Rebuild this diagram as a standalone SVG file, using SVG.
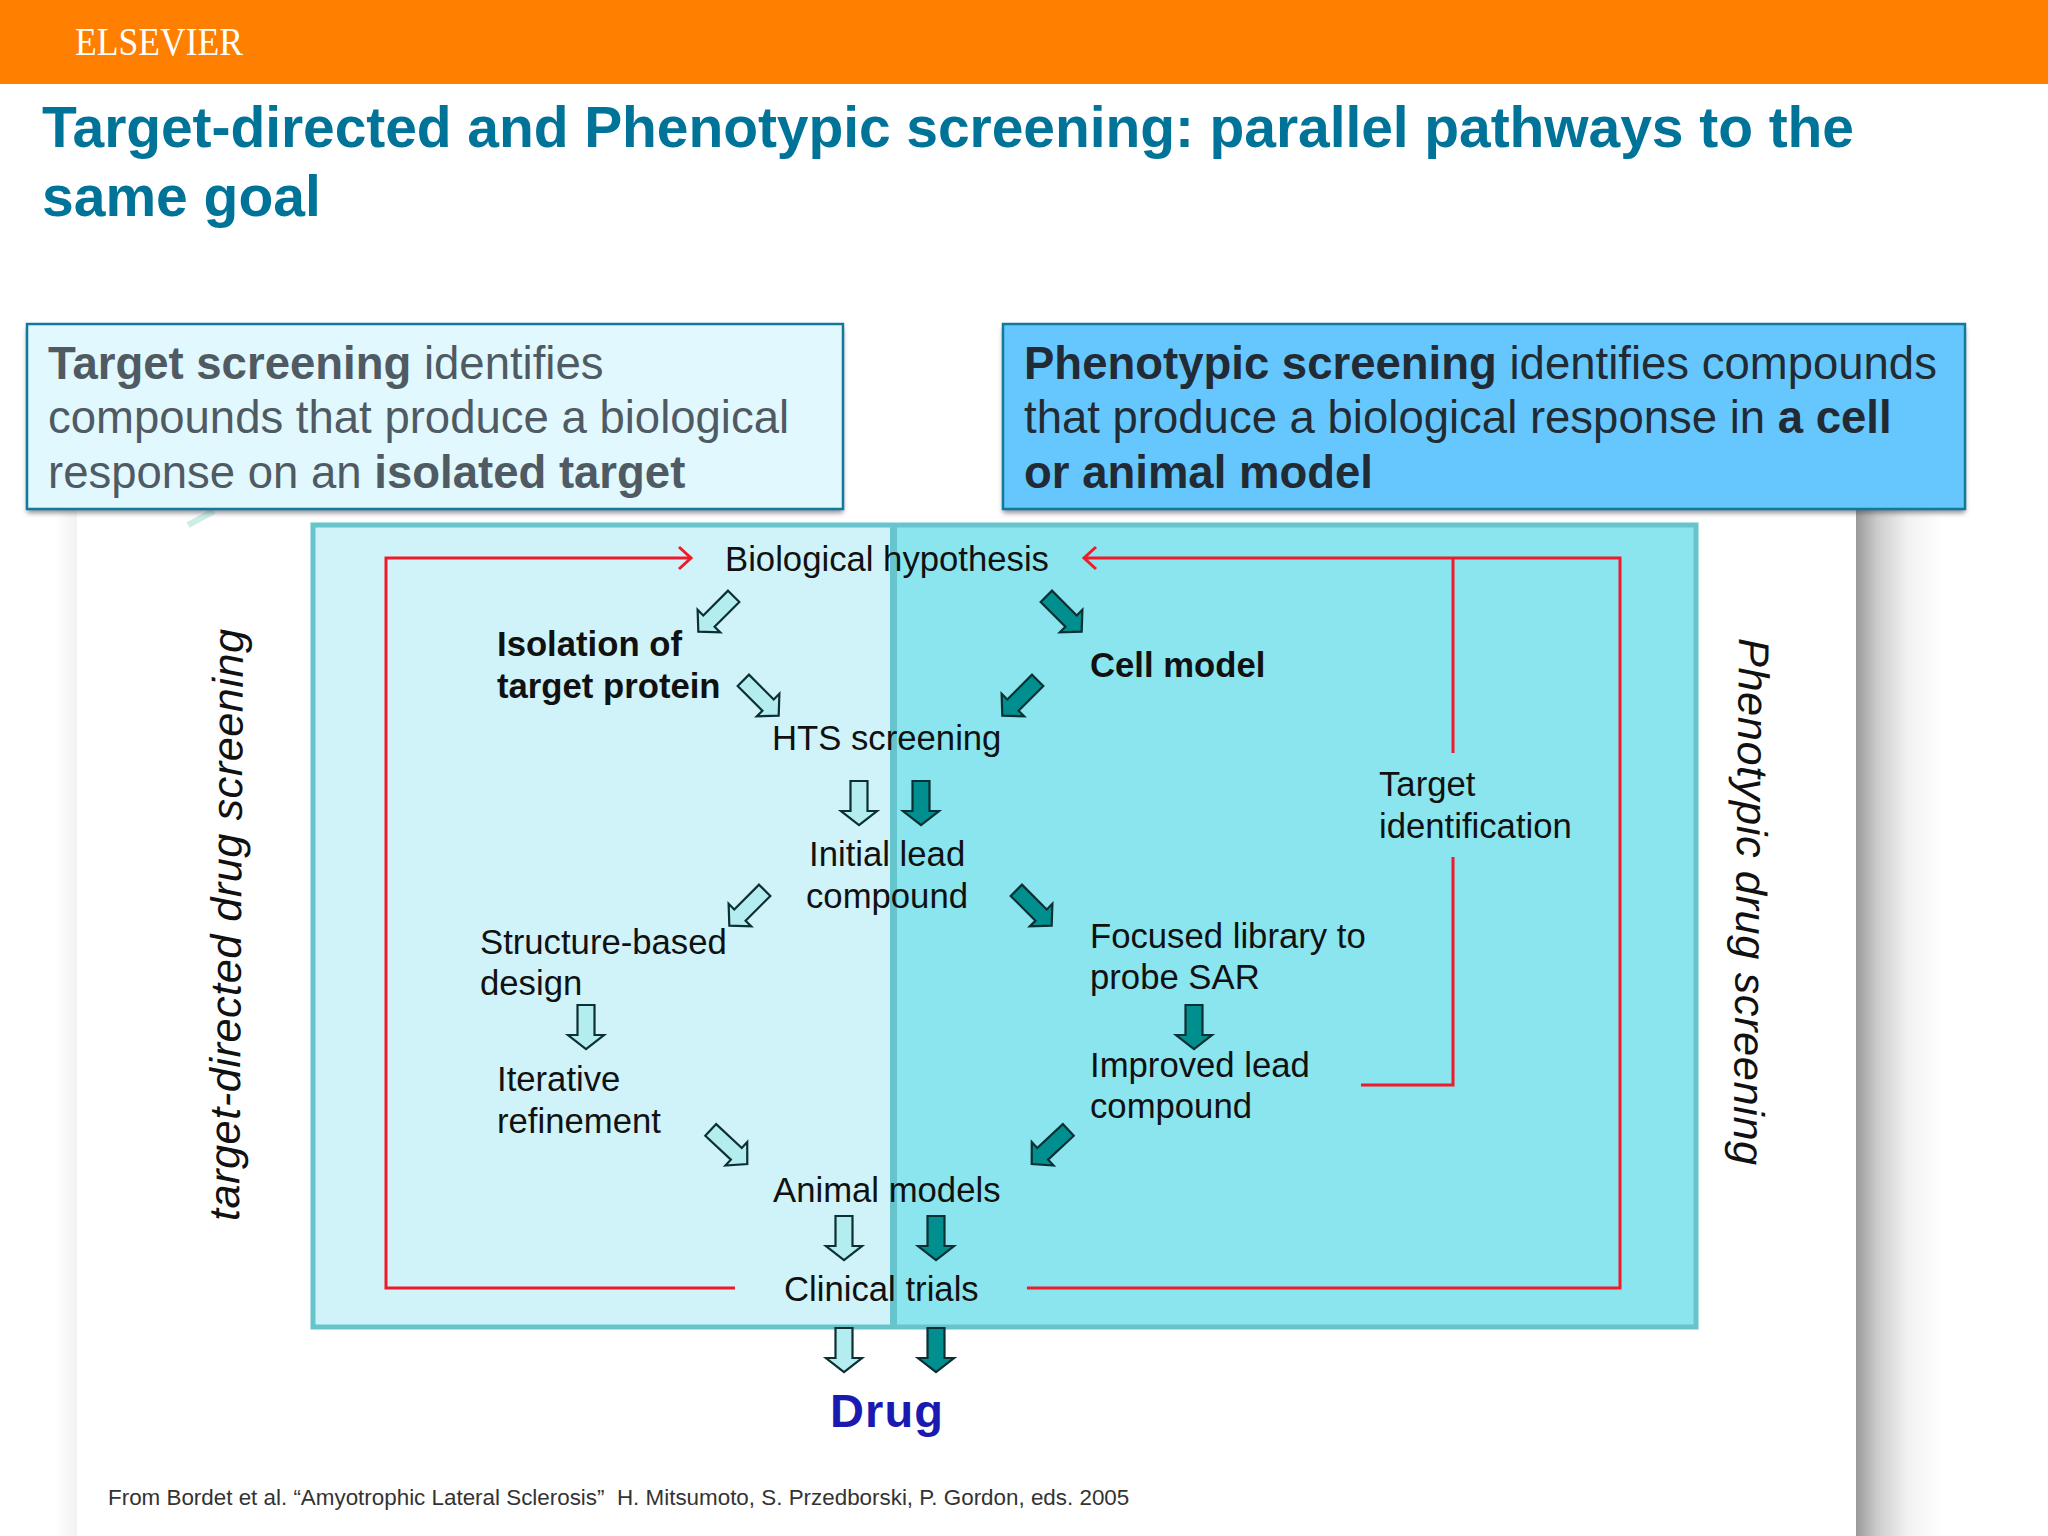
<svg xmlns="http://www.w3.org/2000/svg" width="2048" height="1536" viewBox="0 0 2048 1536">
<style>
.t{font-family:"Liberation Sans",Arial,sans-serif;font-size:34.7px;fill:#111}
.b{font-weight:bold}
.box{font-family:"Liberation Sans",Arial,sans-serif;font-size:45.5px}
.title{font-family:"Liberation Sans",Arial,sans-serif;font-size:57px;font-weight:bold;fill:#007398}
.red{fill:none;stroke:#f01a2a;stroke-width:3}
.l{fill:#b3edf0;stroke:#0c2f33;stroke-width:2.2;stroke-linejoin:miter}
.d{fill:#008e8e;stroke:#0c2f33;stroke-width:2.2;stroke-linejoin:miter}
.vt{font-family:"Liberation Sans",Arial,sans-serif;font-size:43px;font-style:italic;fill:#111}
</style>
<defs>
<polygon id="down" points="-8.5,-22 8.5,-22 8.5,8 18,8 0,22 -18,8 -8.5,8"/>
<polygon id="diag" points="-8,-25 8,-25 8,10 16,10 0,25 -16,10 -8,10"/>
<linearGradient id="sh" x1="0" x2="1" y1="0" y2="0"><stop offset="0" stop-color="#999"/><stop offset=".25" stop-color="#ccc"/><stop offset=".6" stop-color="#f1f1f1"/><stop offset="1" stop-color="#fff"/></linearGradient>
<linearGradient id="shl" x1="1" x2="0" y1="0" y2="0"><stop offset="0" stop-color="#f2f2f2"/><stop offset="1" stop-color="#fff"/></linearGradient>
<filter id="bs" x="-5%" y="-5%" width="110%" height="115%"><feGaussianBlur stdDeviation="2.5"/></filter>
</defs>
<rect width="2048" height="1536" fill="#fff"/>
<g id="header">
<rect width="2048" height="84" fill="#ff8000"/>
<text x="75" y="55" font-family="'Liberation Serif',serif" font-size="40" fill="#fff" textLength="168" lengthAdjust="spacingAndGlyphs">ELSEVIER</text>
</g>
<g id="title">
<text class="title" x="42" y="147" textLength="1812">Target-directed and Phenotypic screening: parallel pathways to the</text>
<text class="title" x="42" y="216">same goal</text>
</g>
<g id="panel">
<rect x="1856" y="509" width="85" height="1027" fill="url(#sh)"/>
<rect x="55" y="509" width="22" height="1027" fill="url(#shl)"/>
<rect x="77" y="509" width="1779" height="1027" fill="#fff"/>
<path d="M188 525 L214 511" stroke="#cdeee6" stroke-width="6" fill="none"/>
<rect x="313" y="525" width="580" height="802" fill="#cff3f8"/>
<rect x="893" y="525" width="803" height="802" fill="#8ae5ee"/>
<rect x="313" y="525" width="1383" height="802" fill="none" stroke="#66c4cc" stroke-width="5"/>
<rect x="890" y="525" width="7" height="802" fill="#66c4cc"/>
</g>
<g id="box-target">
<rect x="27" y="328" width="816" height="185" fill="#445" opacity=".6" filter="url(#bs)"/>
<rect x="27" y="324" width="816" height="185" fill="#e0f8fe" stroke="#0f7a9a" stroke-width="2.5"/>
<text class="box" fill="#505a62" x="48" y="378.500"><tspan font-weight="bold">Target screening</tspan> identifies</text>
<text class="box" fill="#505a62" x="48" y="433">compounds that produce a biological</text>
<text class="box" fill="#505a62" x="48" y="488">response on an <tspan font-weight="bold">isolated target</tspan></text>
</g>
<g id="box-phenotypic">
<rect x="1003" y="328" width="962" height="185" fill="#445" opacity=".6" filter="url(#bs)"/>
<rect x="1003" y="324" width="962" height="185" fill="#66c7ff" stroke="#0f7a9a" stroke-width="2.5"/>
<text class="box" fill="#222b33" x="1024" y="378.500"><tspan font-weight="bold">Phenotypic screening</tspan> identifies compounds</text>
<text class="box" fill="#222b33" x="1024" y="433">that produce a biological response in <tspan font-weight="bold">a cell</tspan></text>
<text class="box" fill="#222b33" font-weight="bold" x="1024" y="488">or animal model</text>
</g>
<g id="connectors">
<path class="red" d="M735 1288H386V558H690"/>
<path class="red" d="M679 547L691 558L679 569"/>
<path class="red" d="M1027 1288H1620V558H1084"/>
<path class="red" d="M1096 547L1084 558L1096 569"/>
<path class="red" d="M1453 558V753"/>
<path class="red" d="M1453 857V1085H1361"/>
<use href="#diag" class="l" transform="translate(716 614) rotate(45)"/>
<use href="#diag" class="l" transform="translate(761 698) rotate(-45)"/>
<use href="#down" class="l" transform="translate(859 803)"/>
<use href="#diag" class="l" transform="translate(747 908) rotate(45)"/>
<use href="#down" class="l" transform="translate(586 1027)"/>
<use href="#diag" class="l" transform="translate(729 1147) rotate(-47)"/>
<use href="#down" class="l" transform="translate(844 1238)"/>
<use href="#down" class="l" transform="translate(844 1350)"/>
<use href="#diag" class="d" transform="translate(1064 614) rotate(-45)"/>
<use href="#diag" class="d" transform="translate(1020 698) rotate(45)"/>
<use href="#down" class="d" transform="translate(921 803)"/>
<use href="#diag" class="d" transform="translate(1034 908) rotate(-45)"/>
<use href="#down" class="d" transform="translate(1194 1027)"/>
<use href="#diag" class="d" transform="translate(1050 1147) rotate(47)"/>
<use href="#down" class="d" transform="translate(936 1238)"/>
<use href="#down" class="d" transform="translate(936 1350)"/>
</g>
<g id="node-hypothesis"><text class="t" x="725" y="571">Biological hypothesis</text></g>
<g id="node-isolation"><text class="t b" x="497" y="656">Isolation of</text><text class="t b" x="497" y="698">target protein</text></g>
<g id="node-cell"><text class="t b" x="1090" y="677">Cell model</text></g>
<g id="node-hts"><text class="t" x="772" y="750">HTS screening</text></g>
<g id="node-initial"><text class="t" x="809" y="866">Initial lead</text><text class="t" x="806" y="908">compound</text></g>
<g id="node-structure"><text class="t" x="480" y="954">Structure-based</text><text class="t" x="480" y="995">design</text></g>
<g id="node-focused"><text class="t" x="1090" y="947.500">Focused library to</text><text class="t" x="1090" y="989">probe SAR</text></g>
<g id="node-iterative"><text class="t" x="497" y="1091">Iterative</text><text class="t" x="497" y="1133">refinement</text></g>
<g id="node-improved"><text class="t" x="1090" y="1077">Improved lead</text><text class="t" x="1090" y="1118">compound</text></g>
<g id="node-animal"><text class="t" x="773" y="1202">Animal models</text></g>
<g id="node-clinical"><text class="t" x="784" y="1301">Clinical trials</text></g>
<g id="node-target-id"><text class="t" x="1379" y="796">Target</text><text class="t" x="1379" y="837.500">identification</text></g>
<g id="node-drug"><text x="830" y="1427" font-family="'Liberation Sans',Arial,sans-serif" font-size="47" font-weight="bold" fill="#1a1ab0" textLength="113">Drug</text></g>
<g id="side-labels">
<text class="vt" transform="translate(239 1221) rotate(-89.6)" textLength="592">target-directed drug screening</text>
<text class="vt" transform="translate(1739 638) rotate(90.6)" textLength="527">Phenotypic drug screening</text>
</g>
<g id="citation"><text x="108" y="1505" font-family="'Liberation Sans',Arial,sans-serif" font-size="22.4" fill="#333" style="white-space:pre">From Bordet et al. “Amyotrophic Lateral Sclerosis”  H. Mitsumoto, S. Przedborski, P. Gordon, eds. 2005</text></g>
</svg>
